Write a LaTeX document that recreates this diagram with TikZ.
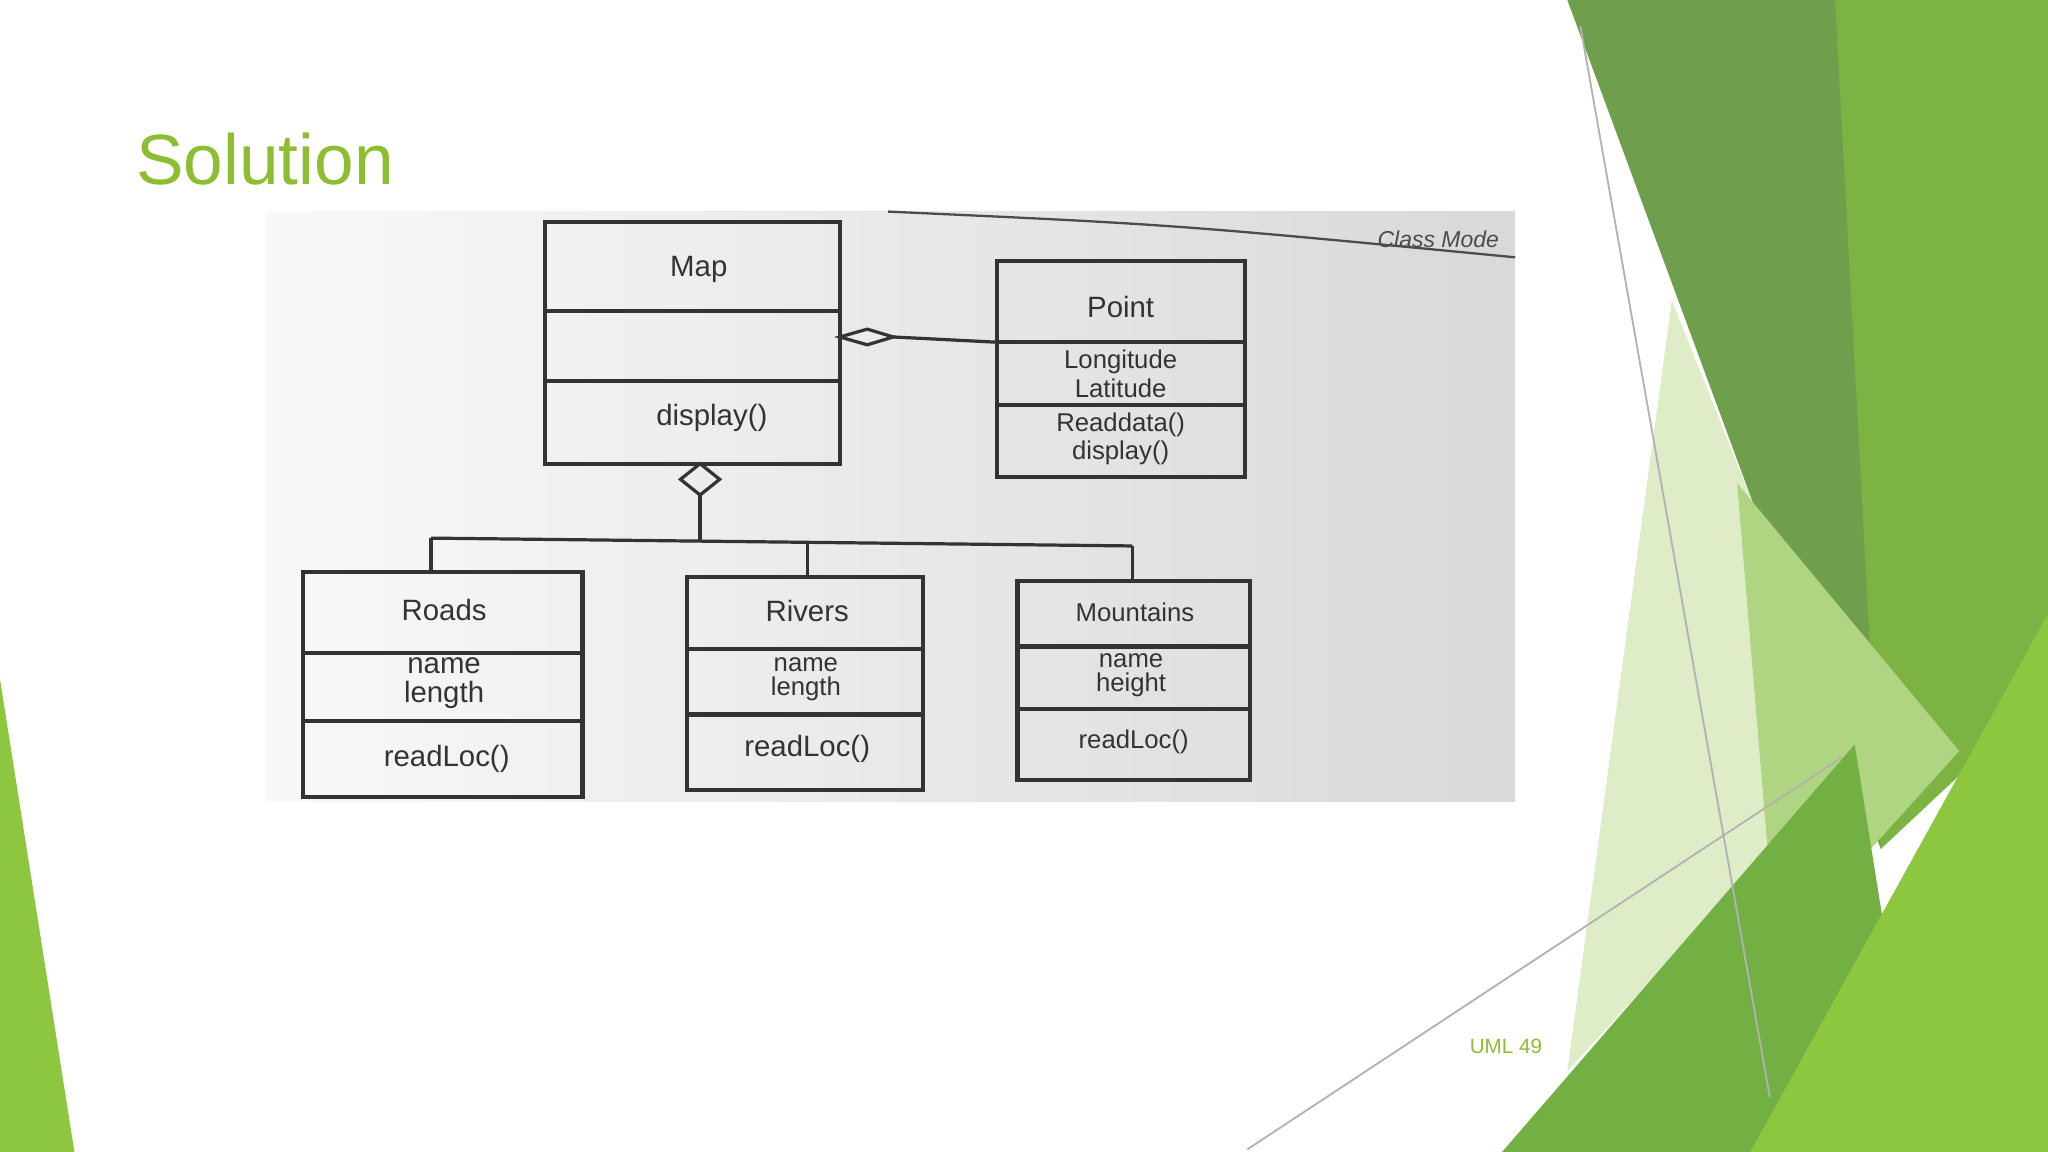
\documentclass[tikz,border=0pt]{standalone}
\usepackage{fontspec}
\setmainfont{Liberation Sans}
\begin{document}
\begin{tikzpicture}[x=0.01cm,y=-0.01cm,
  cls/.style={draw=black!80,line width=0.9pt},
  lbl/.style={font=\fontsize{6.4}{6.4}\selectfont,text=black!80,align=center},
  sml/.style={font=\fontsize{5.6}{5.2}\selectfont,text=black!80,align=center},
  conn/.style={draw=black!80,line width=0.7pt}]
\useasboundingbox (0,0) rectangle (1568,882);
\fill[white] (0,0) rectangle (1568,882);
% right decoration
\fill[color={rgb,255:red,222;green,236;blue,200}] (1280,230) -- (1420,580) -- (1200,820) -- cycle;
\fill[color={rgb,255:red,111;green,158;blue,77}] (1200,0) -- (1530,0) -- (1440,650) -- cycle;
\fill[color={rgb,255:red,124;green,179;blue,66}] (1405,0) -- (1568,0) -- (1568,530) -- (1440,650) -- cycle;
\fill[color={rgb,255:red,175;green,212;blue,130}] (1330,370) -- (1500,575) -- (1360,730) -- cycle;
\fill[color={rgb,255:red,114;green,176;blue,67}] (1150,882) -- (1420,570) -- (1470,882) -- cycle;
\fill[color={rgb,255:red,141;green,198;blue,63}] (1340,882) -- (1568,470) -- (1568,882) -- cycle;
\fill[color={rgb,255:red,141;green,198;blue,63}] (0,520) -- (57,882) -- (0,882) -- cycle;
\draw[gray!60,line width=0.4pt] (1210,20) -- (1355,840);
\draw[gray!60,line width=0.4pt] (955,880) -- (1410,580);
% title
\node[anchor=west,text={rgb,255:red,141;green,190;blue,50},font=\fontsize{15.5}{15.5}\selectfont] (title) at (92,122) {Solution};
\node[text={rgb,255:red,141;green,190;blue,50},font=\fontsize{4.5}{4.5}\selectfont] (pg) at (1153,801) {UML 49};
% photo background
\shade[left color=white!95!gray, right color=gray!30] (204,162) rectangle (1160,614);
\draw[black!70,line width=0.5pt] (680,162) .. controls (900,172) .. (1160,197);
\node[anchor=east,font=\itshape\fontsize{5}{5}\selectfont,text=black!70] (cm) at (1160,183) {Class Mode};
% Map
\draw[cls] (417,170) rectangle (643,355);
\draw[cls] (417,238) -- (643,238) (417,292) -- (643,292);
\node[lbl] (maptitle) at (535,206) {Map};
\node[lbl] (mapop) at (545,320) {display()};
\coordinate (mapR) at (643,258);
\coordinate (mapB) at (536,355);
% Point
\draw[cls] (763,200) rectangle (953,365);
\draw[cls] (763,262) -- (953,262) (763,310) -- (953,310);
\node[lbl] at (858,235) {Point};
\node[sml] at (858,286) {Longitude\\Latitude};
\node[sml] at (858,336) {Readdata()\\display()};
\coordinate (ptL) at (763,262);
% aggregation to point
\draw[conn] (ptL) -- (684,258);
\draw[conn,fill=white!85!gray] (mapR) -- (664,252) -- (684,258) -- (664,264) -- cycle;
% lower aggregation
\draw[conn,fill=white!85!gray] (mapB) -- (551,367) -- (536,379) -- (521,367) -- cycle;
\draw[conn] (536,379) -- (536,414);
\draw[conn] (330,412) -- (867,418);
% Roads
\draw[cls] (232,438) rectangle (446,610);
\draw[cls] (232,500) -- (446,500) (232,552) -- (446,552);
\node[lbl] at (340,467) {Roads};
\node[lbl] at (340,523) {name\\length};
\node[lbl] at (342,581) {readLoc()};
% Rivers
\draw[cls] (526,442) rectangle (707,605);
\draw[cls] (526,497) -- (707,497) (526,547) -- (707,547);
\node[lbl] at (618,468) {Rivers};
\node[sml] at (617,520) {name\\length};
\node[lbl] at (618,573) {readLoc()};
% Mountains
\draw[cls] (779,445) rectangle (957,597);
\draw[cls] (779,495) -- (957,495) (779,543) -- (957,543);
\node[sml] at (869,469) {Mountains};
\node[sml] at (866,517) {name\\height};
\node[sml] at (868,568) {readLoc()};
\draw[conn] (330,412) -- (330,438);
\draw[conn] (618,416) -- (618,442);
\draw[conn] (867,418) -- (867,445);
\end{tikzpicture}
\end{document}
